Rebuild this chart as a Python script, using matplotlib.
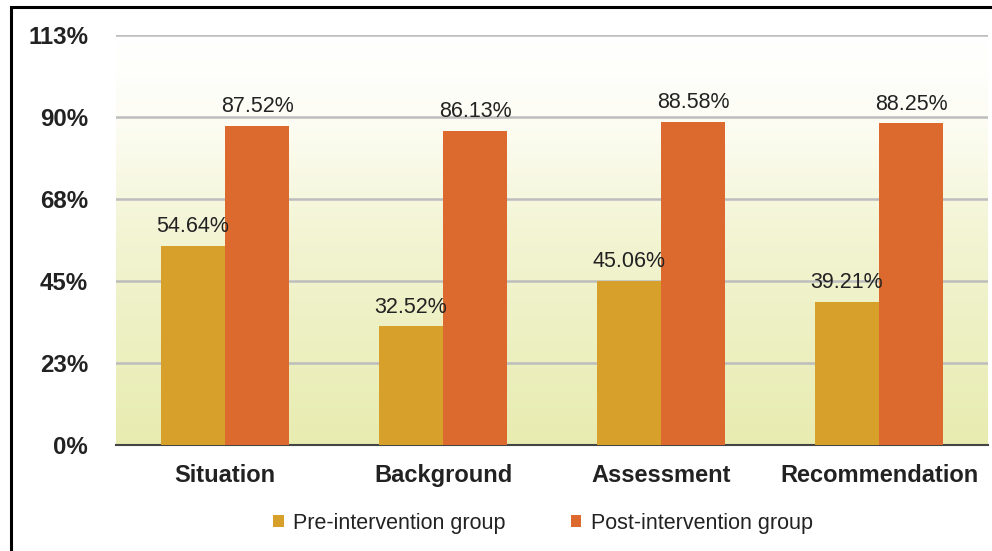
import numpy as np
import matplotlib.pyplot as plt
from matplotlib.patches import Rectangle
from matplotlib.colors import LinearSegmentedColormap

plt.rcParams['font.family'] = ['Liberation Sans', 'DejaVu Sans']

categories = ['Situation', 'Background', 'Assessment', 'Recommendation']
pre_values = [54.64, 32.52, 45.06, 39.21]
post_values = [87.52, 86.13, 88.58, 88.25]
series_names = ['Pre-intervention group', 'Post-intervention group']
ytick_values = [0, 22.5, 45, 67.5, 90, 112.5]
ytick_labels = ['0%', '23%', '45%', '68%', '90%', '113%']

pre_color = '#D6A02A'
post_color = '#DC6A2F'

W, H = 992, 551
fig = plt.figure(figsize=(W / 100, H / 100), dpi=100)
ax = fig.add_axes([116 / W, 1 - 445 / H, 872 / W, 410 / H])

# background gradient (white at top to pale yellow-green at bottom)
cmap = LinearSegmentedColormap.from_list('bg', [(0, '#E8ECB0'), (0.5, '#F2F4D2'), (0.8, '#FDFDF5'), (1, '#FFFFFF')])
grad = np.linspace(0, 1, 256).reshape(-1, 1)
ax.imshow(grad, aspect='auto', cmap=cmap, origin='lower',
          extent=[-0.5, 3.5, 0, 112.5], zorder=0)

x = np.arange(len(categories))
w = 0.294
ax.bar(x - w / 2, pre_values, w, color=pre_color, label=series_names[0], zorder=3)
ax.bar(x + w / 2, post_values, w, color=post_color, label=series_names[1], zorder=3)

for xi, v in zip(x, pre_values):
    ax.text(xi - w / 2, v + 3.8, f'{v:.2f}%', ha='center', va='baseline',
            fontsize=15.5, color='#222222', zorder=4)
for xi, v in zip(x, post_values):
    ax.text(xi + w / 2, v + 3.8, f'{v:.2f}%', ha='center', va='baseline',
            fontsize=15.5, color='#222222', zorder=4)

ax.set_xlim(-0.5, 3.5)
ax.set_ylim(0, 112.5)
ax.set_yticks(ytick_values)
ax.set_yticklabels(ytick_labels, fontsize=17.3, fontweight='bold', color='#222222')
ax.set_xticks(x)
ax.set_xticklabels(categories, fontsize=17, fontweight='bold', color='#222222')
ax.tick_params(axis='y', length=0, pad=20)
ax.tick_params(axis='x', length=0, pad=14)
ax.grid(axis='y', color='#BDBDBD', linewidth=1.8, zorder=1)
ax.set_axisbelow(True)
for s in ['top', 'right', 'left']:
    ax.spines[s].set_visible(False)
ax.spines['bottom'].set_color('#444444')
ax.spines['bottom'].set_linewidth(1.5)

ax.legend(loc='center', bbox_to_anchor=(543 / W, 1 - 523 / H), bbox_transform=fig.transFigure,
          ncol=2, frameon=False, fontsize=15.5, handlelength=0.5, handleheight=0.5,
          columnspacing=3.0, handletextpad=0.45, labelcolor='#222222')

# outer frame
fig.patches.append(Rectangle((11 / W, -0.05), 1.1, 1 - 7 / H + 0.05, transform=fig.transFigure,
                             fill=False, edgecolor='black', linewidth=2.2, clip_on=False))

fig.savefig('out.png', dpi=100)
